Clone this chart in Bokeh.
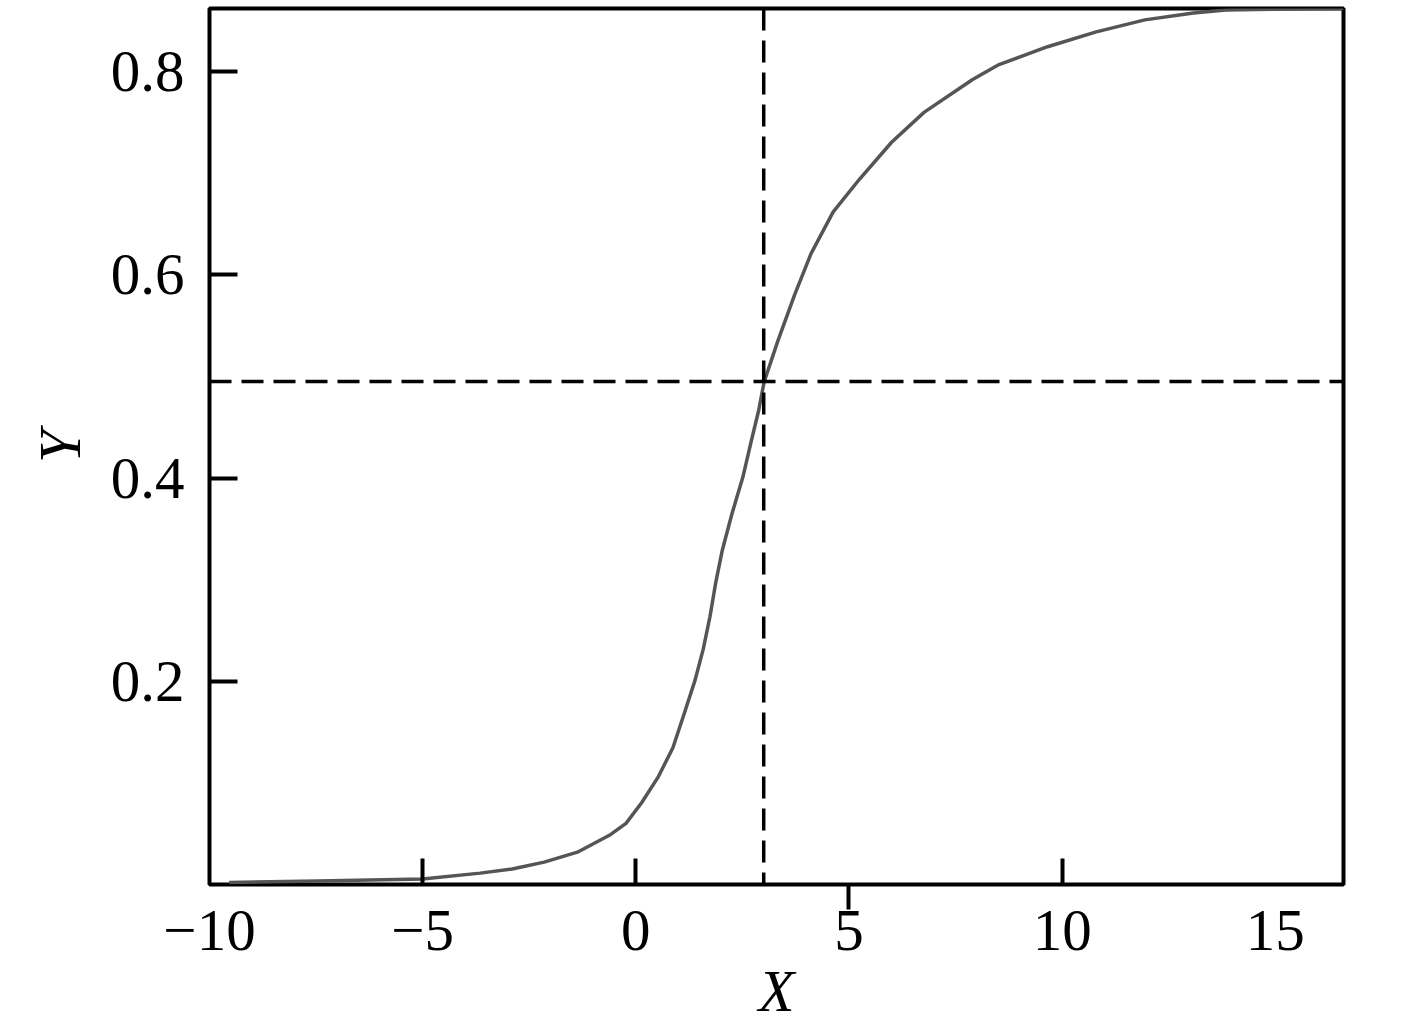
from bokeh.plotting import figure
from bokeh.models import LinearAxis, FixedTicker, Span, CustomJSTickFormatter, Range1d
from bokeh.embed import file_html
from bokeh.resources import INLINE

# ---- data ----
x_values = [-9.54, -7.47, -5.00, -3.65, -2.90, -2.15, -1.37, -0.62, -0.23, 0.14,
            0.53, 0.87, 1.14, 1.39, 1.58, 1.74, 1.87, 2.03, 2.26, 2.51,
            2.69, 2.88, 3.01, 3.33, 3.72, 4.11, 4.63, 5.25, 6.00, 6.76,
            7.90, 8.52, 9.66, 10.80, 11.94, 13.08, 13.84, 15.37, 16.60]
y_values = [0.002, 0.0034, 0.0054, 0.0112, 0.0152, 0.0220, 0.0318, 0.0484, 0.0602, 0.0807,
            0.1062, 0.1346, 0.1688, 0.2011, 0.2314, 0.2637, 0.2960, 0.3292, 0.3655, 0.4007,
            0.4330, 0.4662, 0.4946, 0.5347, 0.5797, 0.6208, 0.6619, 0.6942, 0.7304, 0.7598,
            0.7921, 0.8068, 0.8244, 0.8390, 0.8508, 0.8576, 0.8606, 0.8615, 0.8620]
x_ticks = [-10, -5, 0, 5, 10, 15]
x_inner_ticks = [-5, 0, 10]
x_outer_ticks = [5]
y_ticks = [0.2, 0.4, 0.6, 0.8]
crosshair_x = 3.0
crosshair_y = 0.495

FONT = "Liberation Serif"
FS = "59px"
LW = 4

p = figure(width=1410, height=1026,
           x_range=Range1d(-10, 16.6), y_range=Range1d(0, 0.862),
           x_axis_type=None, y_axis_type=None,
           output_backend="svg", toolbar_location=None,
           min_border_left=209, min_border_top=8, min_border_right=67, min_border_bottom=138)
p.outline_line_color = "black"
p.outline_line_width = LW
p.outline_line_alpha = 1.0
p.background_fill_color = "white"
p.border_fill_color = "white"

# tick-marks-only axis (inward at -5,0,10 ; outward at 5)
ax_ticks = LinearAxis(
    ticker=FixedTicker(ticks=x_outer_ticks, minor_ticks=x_inner_ticks),
    formatter=CustomJSTickFormatter(code="return ''"),
    axis_line_color=None,
    major_tick_in=0, major_tick_out=25, minor_tick_in=26, minor_tick_out=0,
    major_tick_line_width=LW, minor_tick_line_width=LW,
    major_tick_line_color="black", minor_tick_line_color="black",
    major_label_text_font_size="1px", major_label_standoff=0)
p.add_layout(ax_ticks, "below")

# label axis for x
ax_x = LinearAxis(
    ticker=FixedTicker(ticks=x_ticks),
    axis_line_color=None,
    major_tick_in=0, major_tick_out=0, minor_tick_in=0, minor_tick_out=0,
    major_tick_line_color=None, minor_tick_line_color=None,
    major_label_standoff=1,
    major_label_text_font=FONT, major_label_text_font_size=FS,
    major_label_text_color="black",
    major_label_overrides={-10: "\u221210", -5: "\u22125"},
    axis_label="X", axis_label_text_font=FONT, axis_label_text_font_size=FS,
    axis_label_text_font_style="italic", axis_label_text_color="black",
    axis_label_standoff=5)
p.add_layout(ax_x, "below")

ax_y = LinearAxis(
    ticker=FixedTicker(ticks=y_ticks),
    axis_line_color=None,
    major_tick_in=28, major_tick_out=0, minor_tick_in=0, minor_tick_out=0,
    major_tick_line_width=LW, major_tick_line_color="black",
    major_label_standoff=25,
    major_label_text_font=FONT, major_label_text_font_size=FS,
    major_label_text_color="black",
    axis_label="Y", axis_label_text_font=FONT, axis_label_text_font_size=FS,
    axis_label_text_font_style="italic", axis_label_text_color="black",
    axis_label_standoff=15)
p.add_layout(ax_y, "left")

p.line(x_values, y_values, line_color="#555555", line_width=3.5, line_join="round")

p.add_layout(Span(location=crosshair_x, dimension="height", line_color="black",
                  line_width=3.5, line_dash="22 10"))
p.add_layout(Span(location=crosshair_y, dimension="width", line_color="black",
                  line_width=3.5, line_dash="22 10"))

open("out.html", "w").write(file_html(p, INLINE))
